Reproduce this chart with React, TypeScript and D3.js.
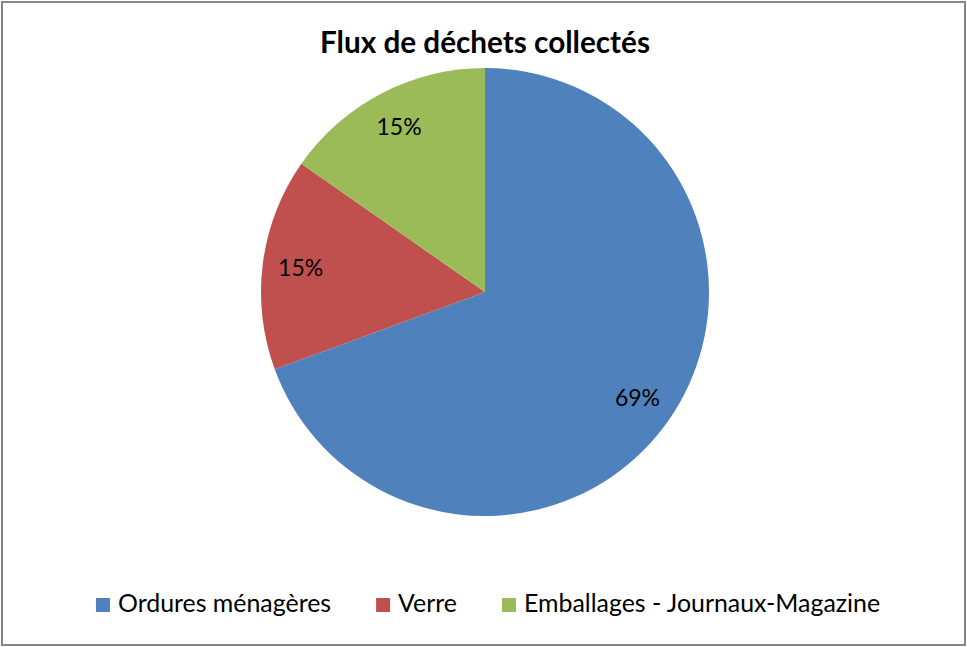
import { useEffect, useRef } from 'react';
import * as d3 from 'd3';

const width = 967;
const height = 647;
const centerX = 485;
const centerY = 292;
const radius = 224;

const categories = ['Ordures ménagères', 'Verre', 'Emballages - Journaux-Magazine'];
const values = [69.4, 15.3, 15.3];
const colors = ['#4F81BD', '#C0504D', '#9BBB59'];
const title = 'Flux de déchets collectés';

const font = 'Lato, "Open Sans", sans-serif';

const App = () => {
  const ref = useRef<SVGSVGElement>(null);

  useEffect(() => {
    const svg = d3.select(ref.current);
    svg.selectAll('*').remove();

    // frame
    svg.append('rect')
      .attr('x', 2).attr('y', 2)
      .attr('width', width - 4).attr('height', height - 4)
      .attr('fill', '#fff')
      .attr('stroke', '#868686')
      .attr('stroke-width', 2);

    svg.append('text')
      .attr('x', centerX).attr('y', 53)
      .attr('text-anchor', 'middle')
      .attr('font-family', font)
      .attr('font-weight', 'bold')
      .attr('font-size', 29.7)
      .text(title);

    const data = categories.map((c, i) => ({ name: c, value: values[i], color: colors[i] }));
    const total = d3.sum(values);
    const pieGen = d3.pie<any>().sort(null).value(d => d.value);
    const arcs = pieGen(data);
    const pieArc = d3.arc<any>().innerRadius(0).outerRadius(radius);
    const labelArc = d3.arc<any>().innerRadius(radius * 0.83).outerRadius(radius * 0.83);

    const g = svg.append('g').attr('transform', `translate(${centerX},${centerY})`);
    g.selectAll('path').data(arcs).join('path')
      .attr('d', pieArc)
      .attr('fill', d => d.data.color);

    g.selectAll('text').data(arcs).join('text')
      .attr('transform', d => `translate(${labelArc.centroid(d)})`)
      .attr('text-anchor', 'middle')
      .attr('dy', '0.35em')
      .attr('font-family', font)
      .attr('font-size', 23)
      .attr('fill', '#000')
      .text(d => `${Math.round((d.data.value / total) * 100)}%`);

    // legend
    const legend = svg.append('g').attr('transform', 'translate(0,612)');
    let x = 0;
    data.forEach(d => {
      legend.append('rect')
        .attr('x', x).attr('y', -14)
        .attr('width', 14).attr('height', 14)
        .attr('fill', d.color);
      const t = legend.append('text')
        .attr('x', x + 22).attr('y', 0)
        .attr('font-family', font)
        .attr('font-size', 24.9)
        .text(d.name);
      const w = (t.node() as SVGTextElement).getComputedTextLength();
      x += 22 + w + 45;
    });
    const legendWidth = x - 45;
    legend.attr('transform', `translate(${488 - legendWidth / 2},612)`);
  }, []);

  return (
    <svg ref={ref} width={width} height={height}
      style={{ position: 'absolute', left: 0, top: 0 }} />
  );
};

export default App;
